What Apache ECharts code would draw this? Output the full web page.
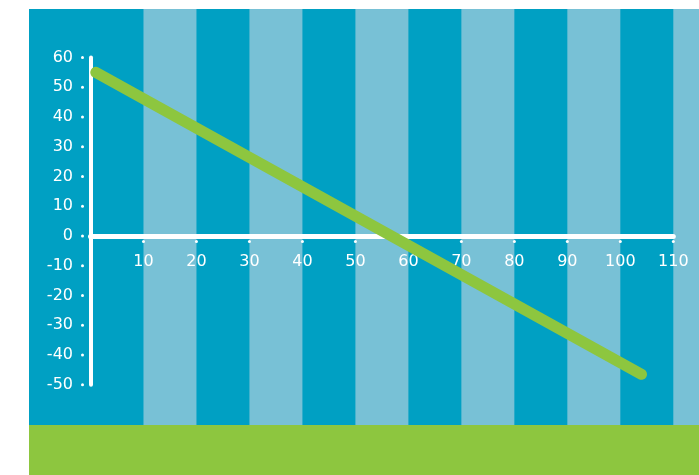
<!DOCTYPE html>
<html>
<head>
<meta charset="utf-8">
<script src="https://cdn.jsdelivr.net/npm/echarts@6/dist/echarts.min.js"></script>
<style>
html,body{margin:0;padding:0;background:#fff;}
#chart{width:699px;height:475px;}
</style>
</head>
<body>
<div id="chart"></div>
<script>
// ---- data ----
var xTicks = [0, 10, 20, 30, 40, 50, 60, 70, 80, 90, 100, 110];
var yTicks = [-50, -40, -30, -20, -10, 0, 10, 20, 30, 40, 50, 60];
var lineX = [1, 104];
var lineY = [55, -46.5];
var lightStripes = [[10, 20], [30, 40], [50, 60], [70, 80], [90, 100], [110, 130]];

// ---- layout ----
var W = 699, H = 475;
var panelLeft = 29, panelTop = 9, greenTop = 425;
var gLeft = 90.5, gRight = 25.7, gTop = 57.5, gBottom = 90.25;
var xMin = xTicks[0], xMax = xTicks[xTicks.length - 1];
var yMin = yTicks[0], yMax = yTicks[yTicks.length - 1];
var k = (W - gLeft - gRight) / (xMax - xMin);
var ky = (H - gTop - gBottom) / (yMax - yMin);
var xAxisOffset = -(0 - yMin) * ky;
var bgMin = xMin - (gLeft - panelLeft) / k;
var bgMax = xMax + gRight / k;

var DARK = '#00A0C3', LIGHT = '#78C1D6', GREEN = '#8DC63F';
var FONT = 'DejaVu Sans';

var chart = echarts.init(document.getElementById('chart'));
var lineData = lineX.map(function (x, i) { return [x, lineY[i]]; });

chart.setOption({
  animation: false,
  backgroundColor: '#fff',
  graphic: [
    { type: 'rect', z: -10, shape: { x: panelLeft, y: panelTop, width: W - panelLeft, height: greenTop - panelTop }, style: { fill: DARK } },
    { type: 'rect', z: -10, shape: { x: panelLeft, y: greenTop, width: W - panelLeft, height: H - greenTop }, style: { fill: GREEN } }
  ],
  grid: [
    { left: gLeft, right: gRight, top: gTop, bottom: gBottom, containLabel: false },
    { left: panelLeft, right: 0, top: panelTop, bottom: H - greenTop, containLabel: false }
  ],
  xAxis: [
    {
      type: 'value', gridIndex: 0, min: xMin, max: xMax, interval: 10,
      position: 'bottom', offset: xAxisOffset, z: 2,
      axisLine: { onZero: false, lineStyle: { color: '#fff', width: 5, cap: 'round' } },
      axisTick: { show: false },
      splitLine: { show: false },
      axisLabel: {
        margin: 4,
        formatter: function (v) { return v === 0 ? '' : '{d|}\n{t|' + v + '}'; },
        rich: {
          d: { width: 3, height: 3, lineHeight: 3, backgroundColor: '#fff', borderRadius: 1.5 },
          t: { color: '#fff', fontSize: 16, fontFamily: FONT, lineHeight: 38 }
        }
      }
    },
    {
      type: 'value', gridIndex: 1, min: bgMin, max: bgMax,
      show: false, splitLine: { show: false }
    }
  ],
  yAxis: [
    {
      type: 'value', gridIndex: 0, min: yMin, max: yMax, interval: 10, z: 2,
      axisLine: { onZero: false, lineStyle: { color: '#fff', width: 4, cap: 'round' } },
      axisTick: { show: false },
      splitLine: { show: false },
      axisLabel: {
        margin: 6.5,
        formatter: function (v) { return '{t|' + v + '}{d|}'; },
        rich: {
          t: { color: '#fff', fontSize: 16, fontFamily: FONT, padding: [0, 8, 0, 0] },
          d: { width: 3, height: 3, backgroundColor: '#fff', borderRadius: 1.5 }
        }
      }
    },
    { type: 'value', gridIndex: 1, min: 0, max: 1, show: false, splitLine: { show: false } }
  ],
  series: [
    {
      type: 'line', xAxisIndex: 1, yAxisIndex: 1, data: [], silent: true, z: -5,
      markArea: {
        silent: true, z: -5,
        itemStyle: { color: LIGHT },
        data: lightStripes.map(function (s) {
          return [{ xAxis: s[0], yAxis: 0 }, { xAxis: s[1], yAxis: 1 }];
        })
      }
    },
    {
      type: 'line', xAxisIndex: 0, yAxisIndex: 0, data: lineData,
      showSymbol: false, symbol: 'none', z: 5,
      lineStyle: { color: GREEN, width: 11, cap: 'round' }
    }
  ]
});
</script>
</body>
</html>
